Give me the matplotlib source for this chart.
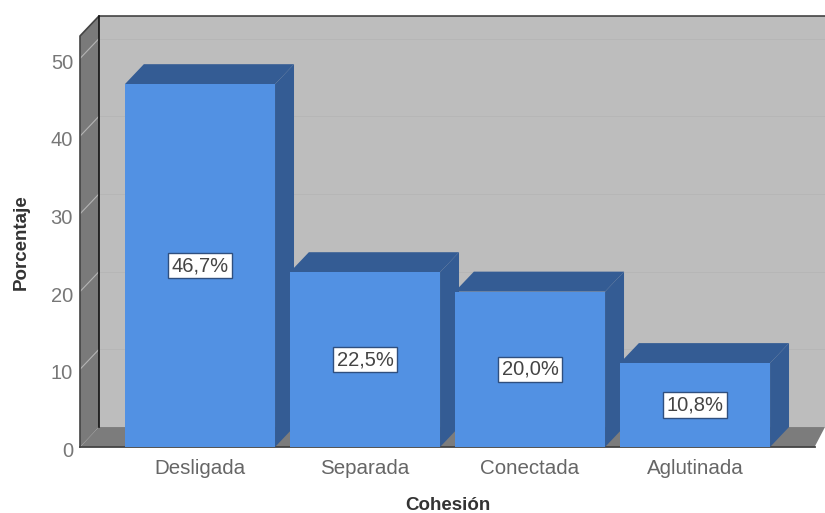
import matplotlib
matplotlib.use("Agg")
import matplotlib.pyplot as plt
from matplotlib.patches import Polygon
from matplotlib.transforms import ScaledTranslation

categories = ["Desligada", "Separada", "Conectada", "Aglutinada"]
values = [46.7, 22.5, 20.0, 10.8]
labels = ["46,7%", "22,5%", "20,0%", "10,8%"]
yticks = [0, 10, 20, 30, 40, 50]

plt.rcParams["font.family"] = ["Liberation Sans", "DejaVu Sans"]
W, H = 825, 513
fig = plt.figure(figsize=(W / 100, H / 100), dpi=100, facecolor="white")
ax = fig.add_axes([80 / W, 1 - 447 / H, (825 - 80) / W, (447 - 15) / H])
ax.set_xlim(-0.727, 3.788)
ax.set_ylim(0, 55.6)
ax.patch.set_visible(False)
for s in ax.spines.values():
    s.set_visible(False)

dx, dy = 0.115, 2.57   # depth of the 3-D effect in data units
x0, x1 = -0.727, 3.788
ytop = 52.9
bw = 0.91
front, topc, sidec = "#5291E3", "#345C94", "#345C94"
wall, floor = "#BDBDBD", "#7C7C7C"

def poly(pts, fc, z):
    ax.add_patch(Polygon(pts, closed=True, fc=fc, ec="none", lw=0, zorder=z, clip_on=False))

# back wall, floor, left wall
poly([(x0 + dx, dy), (x1, dy), (x1, ytop + dy), (x0 + dx, ytop + dy)], wall, 1)
poly([(x0, 0), (x0 + dx, dy), (x1, dy), (x1 - dx * 0.55, 0)], floor, 2)
poly([(x0, 0), (x0 + dx, dy), (x0 + dx, ytop + dy), (x0, ytop)], "#7A7A7A", 2)

for t in yticks[1:]:
    ax.plot([x0 + dx, x1], [t + dy, t + dy], color="#B6B6B6", lw=0.7, zorder=1.5)
    ax.plot([x0, x0 + dx], [t, t + dy], color="#B4B4B4", lw=0.8, zorder=2.5)

# wall outlines
ax.plot([x0, x0, x0 + dx, x1], [0, ytop, ytop + dy, ytop + dy], color="#444444", lw=1.2, zorder=3, clip_on=False)
ax.plot([x0 + dx, x0 + dx], [dy, ytop + dy], color="#111111", lw=1.2, zorder=3)
ax.plot([x0, x1 - dx * 0.55], [0, 0], color="#444444", lw=1.3, zorder=3, clip_on=False)

# bars
for i, v in enumerate(values):
    z = 4 + i
    l, r = i - bw / 2, i + bw / 2
    poly([(l, v), (l + dx, v + dy), (r + dx, v + dy), (r, v)], topc, z)
    poly([(r, 0), (r + dx, dy), (r + dx, v + dy), (r, v)], sidec, z)
    ax.bar(i, v, width=bw, color=front, linewidth=0, zorder=z + 0.1)
    ax.text(i, v / 2, labels[i], ha="center", va="center", fontsize=14.5, color="#444444", zorder=20,
            bbox=dict(boxstyle="square,pad=0.16", fc="white", ec="#2F4F7F", lw=1))

ax.set_xticks(range(len(categories)))
ax.set_xticklabels(categories, fontsize=14.8, color="#666666")
ax.set_yticks(yticks)
ax.set_yticklabels([str(t) for t in yticks], fontsize=14.5, color="#777777")
ax.tick_params(axis="both", length=0)
ax.tick_params(axis="x", pad=9)
ax.tick_params(axis="y", pad=5)
shift = ScaledTranslation(0, -2.5 / 100, fig.dpi_scale_trans)
for lab in ax.get_yticklabels():
    lab.set_transform(lab.get_transform() + shift)

fig.text(21 / W, 1 - 242 / H, "Porcentaje", rotation=90, ha="center", va="center",
         fontsize=13.5, fontweight="bold", color="#333333")
fig.text(448 / W, 1 - 506 / H, "Cohesión", ha="center", va="center",
         fontsize=13.5, fontweight="bold", color="#333333")

fig.savefig("out.png", dpi=100)
